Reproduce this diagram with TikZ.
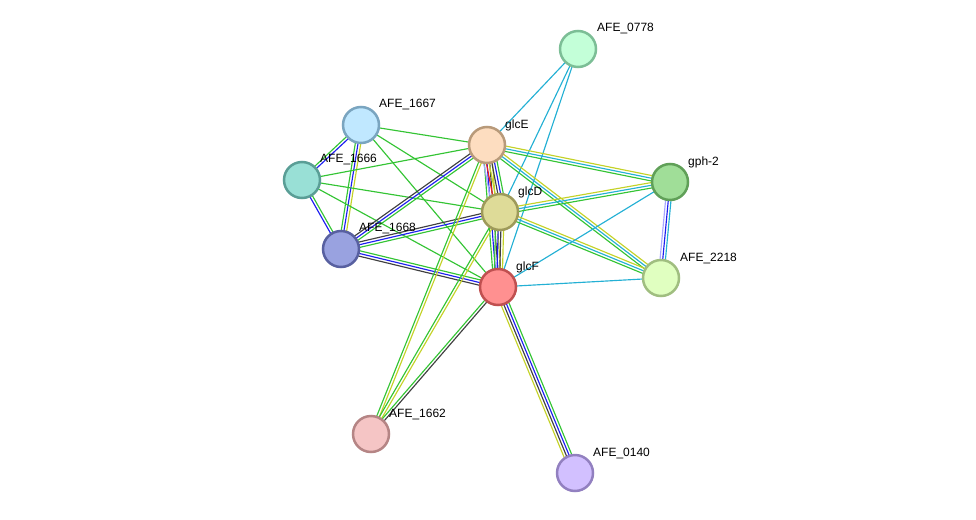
\documentclass[tikz,border=0pt]{standalone}
\usepackage{fontspec}
\setmainfont{Liberation Sans}
\usetikzlibrary{calc}

\pgfdeclarelayer{background}
\pgfsetlayers{background,main}

% evidence colours
\definecolor{evgreen}{RGB}{52,196,52}
\definecolor{evblue}{RGB}{30,30,240}
\definecolor{evblack}{RGB}{64,64,64}
\definecolor{evyellow}{RGB}{196,210,40}
\definecolor{evcyan}{RGB}{36,176,212}
\definecolor{evred}{RGB}{240,30,30}
\definecolor{evlav}{RGB}{166,166,255}

\tikzset{
  prot/.style={circle, draw, line width=2.5pt, minimum size=36pt, inner sep=0pt},
  lbl/.style={anchor=west, inner sep=1pt, font=\fontsize{12}{14}\selectfont},
  evline/.style={line width=1.15pt},
}

% parallel lines between two nodes, one per colour
\newcommand\evlink[3]{%
  \foreach \col [count=\k] in {#3} {\xdef\nlines{\k}}%
  \foreach \col [count=\k] in {#3} {%
    \pgfmathsetmacro\off{(\k-(\nlines+1)/2)*2.7}%
    \draw[evline, color=\col] ($(#1)!\off pt!90:(#2)$) -- ($(#2)!\off pt!-90:(#1)$);
  }%
}

\begin{document}
\begin{tikzpicture}[x=1pt, y=-1pt]
  \useasboundingbox (0,0) rectangle (976,519);

  % proteins
  \node[prot, fill={rgb,255:red,195;green,255;blue,216}, draw={rgb,255:red,124;green,190;blue,150}] (afe0778) at (578,49) {};
  \node[prot, fill={rgb,255:red,192;green,232;blue,255}, draw={rgb,255:red,122;green,165;blue,192}] (afe1667) at (361,125) {};
  \node[prot, fill={rgb,255:red,253;green,221;blue,192}, draw={rgb,255:red,184;green,154;blue,122}] (glcE) at (487,145) {};
  \node[prot, fill={rgb,255:red,153;green,224;blue,214}, draw={rgb,255:red,90;green,158;blue,150}] (afe1666) at (302,180) {};
  \node[prot, fill={rgb,255:red,160;green,222;blue,152}, draw={rgb,255:red,96;green,160;blue,88}] (gph2) at (670,182) {};
  \node[prot, fill={rgb,255:red,222;green,219;blue,152}, draw={rgb,255:red,158;green,154;blue,90}] (glcD) at (500,212) {};
  \node[prot, fill={rgb,255:red,153;green,162;blue,224}, draw={rgb,255:red,88;green,96;blue,160}] (afe1668) at (341,249) {};
  \node[prot, fill={rgb,255:red,224;green,255;blue,192}, draw={rgb,255:red,160;green,190;blue,128}] (afe2218) at (661,278) {};
  \node[prot, fill={rgb,255:red,255;green,144;blue,144}, draw={rgb,255:red,192;green,80;blue,80}] (glcF) at (498,287) {};
  \node[prot, fill={rgb,255:red,245;green,197;blue,197}, draw={rgb,255:red,181;green,133;blue,133}] (afe1662) at (371,434) {};
  \node[prot, fill={rgb,255:red,210;green,192;blue,255}, draw={rgb,255:red,146;green,128;blue,192}] (afe0140) at (575,473) {};

  % names
  \node[lbl] (afe0778-l) at ($(afe0778)+(18,-20)$) {AFE\_0778};
  \node[lbl] (afe1667-l) at ($(afe1667)+(17,-20)$) {AFE\_1667};
  \node[lbl] (glcE-l) at ($(glcE)+(17,-20)$) {glcE};
  \node[lbl] (afe1666-l) at ($(afe1666)+(17,-20)$) {AFE\_1666};
  \node[lbl] (gph2-l) at ($(gph2)+(17,-20)$) {gph-2};
  \node[lbl] (glcD-l) at ($(glcD)+(17,-20)$) {glcD};
  \node[lbl] (afe1668-l) at ($(afe1668)+(17,-20)$) {AFE\_1668};
  \node[lbl] (afe2218-l) at ($(afe2218)+(18,-20)$) {AFE\_2218};
  \node[lbl] (glcF-l) at ($(glcF)+(17,-20)$) {glcF};
  \node[lbl] (afe1662-l) at ($(afe1662)+(17,-20)$) {AFE\_1662};
  \node[lbl] (afe0140-l) at ($(afe0140)+(17,-20)$) {AFE\_0140};

  % links
  \begin{pgfonlayer}{background}
    \evlink{afe0778}{glcE}{evcyan}
    \evlink{afe0778}{glcD}{evcyan}
    \evlink{afe0778}{glcF}{evcyan}
    \evlink{afe1667}{glcE}{evgreen}
    \evlink{afe1667}{glcD}{evgreen}
    \evlink{afe1667}{glcF}{evgreen}
    \evlink{afe1667}{afe1666}{evgreen,evblue}
    \evlink{afe1667}{afe1668}{evgreen,evblue,evyellow}
    \evlink{afe1666}{glcE}{evgreen}
    \evlink{afe1666}{glcD}{evgreen}
    \evlink{afe1666}{glcF}{evgreen}
    \evlink{afe1666}{afe1668}{evblue,evgreen}
    \evlink{afe1668}{glcE}{evgreen,evblue,evblack}
    \evlink{afe1668}{glcD}{evgreen,evblue,evblack}
    \evlink{afe1668}{glcF}{evblack,evblue,evgreen}
    \evlink{glcE}{glcF}{evgreen,evblue,evblack,evyellow}
    \evlink{glcE}{glcD}{evlav,evred,evyellow,evblack,evblue,evgreen}
    \evlink{glcD}{glcF}{evgreen,evblue,evblack,evyellow}
    \evlink{glcE}{gph2}{evgreen,evcyan,evyellow}
    \evlink{glcE}{afe2218}{evgreen,evcyan,evyellow}
    \evlink{glcD}{gph2}{evgreen,evcyan,evyellow}
    \evlink{glcD}{afe2218}{evgreen,evcyan,evyellow}
    \evlink{glcF}{gph2}{evcyan}
    \evlink{glcF}{afe2218}{evcyan}
    \evlink{gph2}{afe2218}{evlav,evblue,evcyan}
    \evlink{glcE}{afe1662}{evgreen,evyellow}
    \evlink{glcD}{afe1662}{evgreen,evyellow}
    \evlink{glcF}{afe1662}{evgreen,evblack}
    \evlink{glcF}{afe0140}{evyellow,evblack,evblue,evgreen}
  \end{pgfonlayer}
\end{tikzpicture}
\end{document}
